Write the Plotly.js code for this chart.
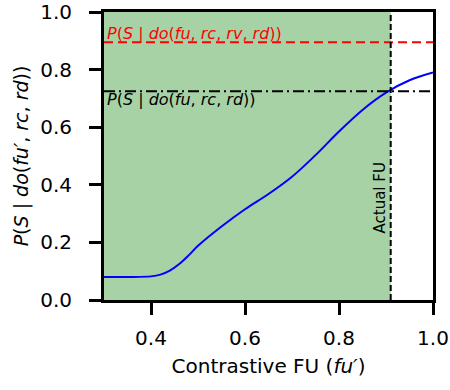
<!DOCTYPE html>
<html>
<head>
<meta charset="utf-8">
<script src="https://cdn.plot.ly/plotly-3.0.1.min.js"></script>
<style>
  body { margin: 0; background: #fff; }
  #chart { width: 450px; height: 390px; }
</style>
</head>
<body>
<div id="chart"></div>
<script>
// Contrastive FU values and the resulting probability curve
const fuValues = [0.30, 0.35, 0.40, 0.42, 0.44, 0.46, 0.48, 0.50, 0.55, 0.60, 0.65, 0.70, 0.75, 0.80, 0.85, 0.90, 0.95, 1.00];
const probValues = [0.080, 0.080, 0.082, 0.088, 0.102, 0.125, 0.155, 0.188, 0.255, 0.315, 0.368, 0.428, 0.503, 0.585, 0.660, 0.720, 0.763, 0.790];

// Reference levels
const fullInterventionLevel = 0.895; // P(S | do(fu, rc, rv, rd))
const partialInterventionLevel = 0.725; // P(S | do(fu, rc, rd))
const actualFu = 0.91;

const xRange = [0.3, 1.0];
const yRange = [0.0, 1.0];
const xTicks = [0.4, 0.6, 0.8, 1.0];
const yTicks = [0.0, 0.2, 0.4, 0.6, 0.8, 1.0];

const font = "DejaVu Sans, sans-serif";

// Main curve
let curve = {
  x: fuValues,
  y: probValues,
  mode: "lines",
  type: "scatter",
  line: { color: "#0000ff", width: 2, shape: "spline", smoothing: 1 },
  showlegend: false,
  hoverinfo: "skip",
};

// Reference lines
let fullLine = {
  x: xRange,
  y: [fullInterventionLevel, fullInterventionLevel],
  mode: "lines",
  type: "scatter",
  line: { color: "#ff0000", width: 2, dash: "9px,5px" },
  showlegend: false,
};
let partialLine = {
  x: xRange,
  y: [partialInterventionLevel, partialInterventionLevel],
  mode: "lines",
  type: "scatter",
  line: { color: "black", width: 2, dash: "11px,4px,2px,4px" },
  showlegend: false,
};
let actualLine = {
  x: [actualFu, actualFu],
  y: yRange,
  mode: "lines",
  type: "scatter",
  line: { color: "black", width: 2, dash: "6px,3px" },
  showlegend: false,
};

let layout = {
  width: 450,
  height: 390,
  margin: { l: 104, r: 17, t: 12, b: 90 },
  paper_bgcolor: "white",
  plot_bgcolor: "white",
  font: { family: font, color: "black" },
  xaxis: {
    range: xRange,
    tickvals: xTicks,
    tickformat: ".1f",
    ticks: "outside",
    ticklen: 12,
    tickwidth: 3,
    tickcolor: "black",
    showline: true,
    linewidth: 3,
    linecolor: "black",
    mirror: true,
    showgrid: false,
    zeroline: false,
    ticklabeloverflow: "allow",
    ticklabelstandoff: 6,
    tickfont: { family: font, size: 20, color: "black" },
    title: {
      text: "Contrastive FU (<i>fu′</i>)",
      font: { family: font, size: 20, color: "black" },
      standoff: 10,
    },
  },
  yaxis: {
    range: yRange,
    tickvals: yTicks,
    tickformat: ".1f",
    ticks: "outside",
    ticklen: 12,
    tickwidth: 3,
    tickcolor: "black",
    showline: true,
    linewidth: 3,
    linecolor: "black",
    mirror: true,
    showgrid: false,
    zeroline: false,
    ticklabeloverflow: "allow",
    ticklabelstandoff: 13,
    tickfont: { family: font, size: 20, color: "black" },
    title: {
      text: "<i>P</i>(<i>S</i> | <i>do</i>(<i>fu′</i>, <i>rc</i>, <i>rd</i>))",
      font: { family: font, size: 19, color: "black" },
      standoff: 7,
    },
  },
  shapes: [
    {
      type: "rect",
      xref: "x",
      yref: "y",
      x0: xRange[0],
      x1: actualFu,
      y0: yRange[0],
      y1: yRange[1],
      fillcolor: "rgb(166,210,166)",
      line: { width: 0 },
      layer: "below",
    },
  ],
  annotations: [
    {
      x: 0.302,
      y: fullInterventionLevel,
      xref: "x",
      yref: "y",
      xanchor: "left",
      yanchor: "bottom",
      showarrow: false,
      yshift: -3,
      text: "<i>P</i>(<i>S</i> | <i>do</i>(<i>fu</i>, <i>rc</i>, <i>rv</i>, <i>rd</i>))",
      font: { family: font, size: 16, color: "#ff0000" },
    },
    {
      x: 0.302,
      y: partialInterventionLevel,
      xref: "x",
      yref: "y",
      xanchor: "left",
      yanchor: "top",
      showarrow: false,
      yshift: 3,
      text: "<i>P</i>(<i>S</i> | <i>do</i>(<i>fu</i>, <i>rc</i>, <i>rd</i>))",
      font: { family: font, size: 16, color: "black" },
    },
    {
      x: actualFu,
      y: 0.355,
      xref: "x",
      yref: "y",
      xanchor: "right",
      yanchor: "middle",
      showarrow: false,
      textangle: -90,
      text: "Actual FU",
      font: { family: font, size: 15, color: "black" },
    },
  ],
};

Plotly.newPlot("chart", [curve, fullLine, partialLine, actualLine], layout, { displayModeBar: false });
</script>
</body>
</html>
